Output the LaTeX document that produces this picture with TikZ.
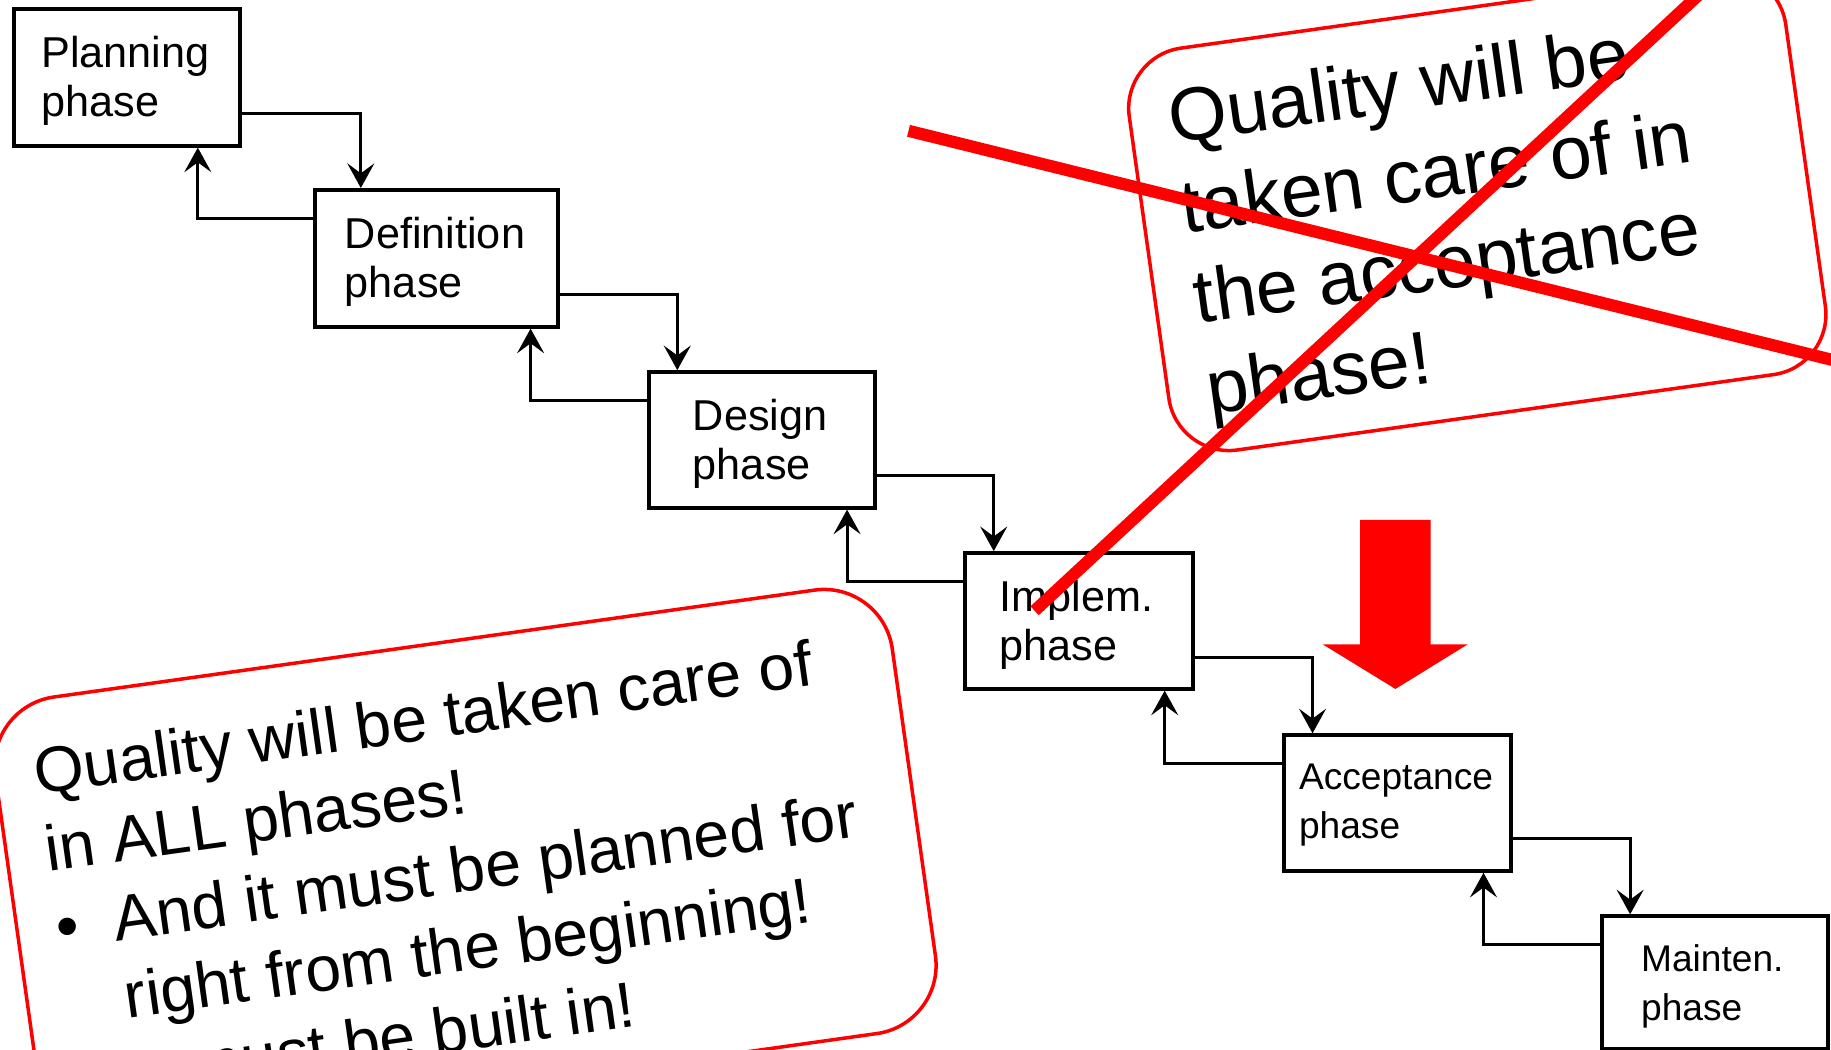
\documentclass[tikz,border=0pt]{standalone}
\usepackage{fontspec}
\setmainfont{Liberation Sans}
\usetikzlibrary{arrows.meta,calc}
\definecolor{xred}{RGB}{255,0,0}
\begin{document}
\begin{tikzpicture}[x=0.5pt,y=-0.5pt,
  phasebox/.style={draw=black, line width=1.7pt, inner sep=0pt, fill=white},
  phasetext/.style={anchor=north west, align=left, inner sep=0pt, font=\fontsize{18.5}{21}\selectfont},
  phasetextsm/.style={phasetext, font=\fontsize{15.9}{21}\selectfont},
  conn/.style={line width=1.35pt, -{Stealth[length=10.5pt,width=11.5pt,inset=4.2pt]}},
  notebox/.style={draw=xred, line width=1.5pt, inner sep=0pt, fill=white},
  crossline/.style={draw=xred, line width=5.2pt},
]
\useasboundingbox (0,0) rectangle (1568,899);
\clip (0,0) rectangle (1568,899);

% phase boxes
\node[phasebox, minimum width=97pt,   minimum height=58.5pt, anchor=north west] (p1) at (10,6) {};
\node[phasebox, minimum width=104pt,  minimum height=58.5pt, anchor=north west] (p2) at (268,161) {};
\node[phasebox, minimum width=97pt,   minimum height=58pt,   anchor=north west] (p3) at (554,317) {};
\node[phasebox, minimum width=97.5pt, minimum height=58pt,   anchor=north west] (p4) at (825,472) {};
\node[phasebox, minimum width=97pt,   minimum height=58pt,   anchor=north west] (p5) at (1098,628) {};
\node[phasebox, minimum width=97pt,   minimum height=57pt,   anchor=north west] (p6) at (1370,783) {};

\node[phasetext]   (t1) at ($(p1.north west)+(25,24.5)$) {Planning\\phase};
\node[phasetext]   (t2) at ($(p2.north west)+(27,24.5)$) {Definition\\phase};
\node[phasetext]   (t3) at ($(p3.north west)+(39,24.5)$) {Design\\phase};
\node[phasetext]   (t4) at ($(p4.north west)+(30.5,24.5)$) {Implem.\\phase};
\node[phasetextsm] (t5) at ($(p5.north west)+(14,25.5)$) {Acceptance\\phase};
\node[phasetextsm] (t6) at ($(p6.north west)+(35,25.5)$) {Mainten.\\phase};

% forward connectors
\draw[conn] ($(p1.north east)+(0,91)$) -| ($(p2.north west)+(41,0)$);
\draw[conn] ($(p2.north east)+(0,91)$) -| ($(p3.north west)+(26,0)$);
\draw[conn] ($(p3.north east)+(0,90)$) -| ($(p4.north west)+(26,0)$);
\draw[conn] ($(p4.north east)+(0,91)$) -| ($(p5.north west)+(26,0)$);
\draw[conn] ($(p5.north east)+(0,90)$) -| ($(p6.north west)+(26,0)$);
% backward connectors
\draw[conn] ($(p2.north west)+(0,26)$) -| ($(p1.south east)+(-38,0)$);
\draw[conn] ($(p3.north west)+(0,26)$) -| ($(p2.south east)+(-25,0)$);
\draw[conn] ($(p4.north west)+(0,26)$) -| ($(p3.south east)+(-26,0)$);
\draw[conn] ($(p5.north west)+(0,26)$) -| ($(p4.south east)+(-26,0)$);
\draw[conn] ($(p6.north west)+(0,26)$) -| ($(p5.south east)+(-25,0)$);

% top-right note
\begin{scope}[shift={(1265.1,181)}, rotate=8, transform shape]
  \node[notebox, minimum width=283.85pt, minimum height=173.75pt, rounded corners=26pt] (n1) at (0,0) {};
  \node[anchor=north west, align=left, inner sep=0pt, font=\fontsize{32.2}{39}\selectfont] (n1t) at (-251,-141)
    {Quality will be\\taken care of in\\the acceptance\\phase!};
\end{scope}

% bottom-left note
\begin{scope}[shift={(398.5,741)}, rotate=8, transform shape]
  \node[notebox, minimum width=387.85pt, minimum height=191.75pt, rounded corners=29.5pt] (n2) at (0,0) {};
  \node[anchor=north west, align=left, inner sep=0pt, font=\fontsize{27.5}{33.5}\selectfont] (n2t) at (-354.85,-151.5)
    {Quality will be taken care of\\in ALL phases!\\\makebox[25pt][l]{\textbullet}And it must be planned for\\\hspace*{25pt}right from the beginning!\\\hspace*{25pt}It must be built in!};
\end{scope}

% red cross
\draw[crossline] (778,112) -- (1700,340.7);
\draw[crossline] (886,523) -- (1500,-46.4);

% red block arrow
\fill[xred] (1164.7,445.3) -- (1225.2,445.3) -- (1225.2,551.8) -- (1256.9,551.8) -- (1195,590)
  -- (1132.7,551.8) -- (1164.7,551.8) -- cycle;
\end{tikzpicture}
\end{document}
